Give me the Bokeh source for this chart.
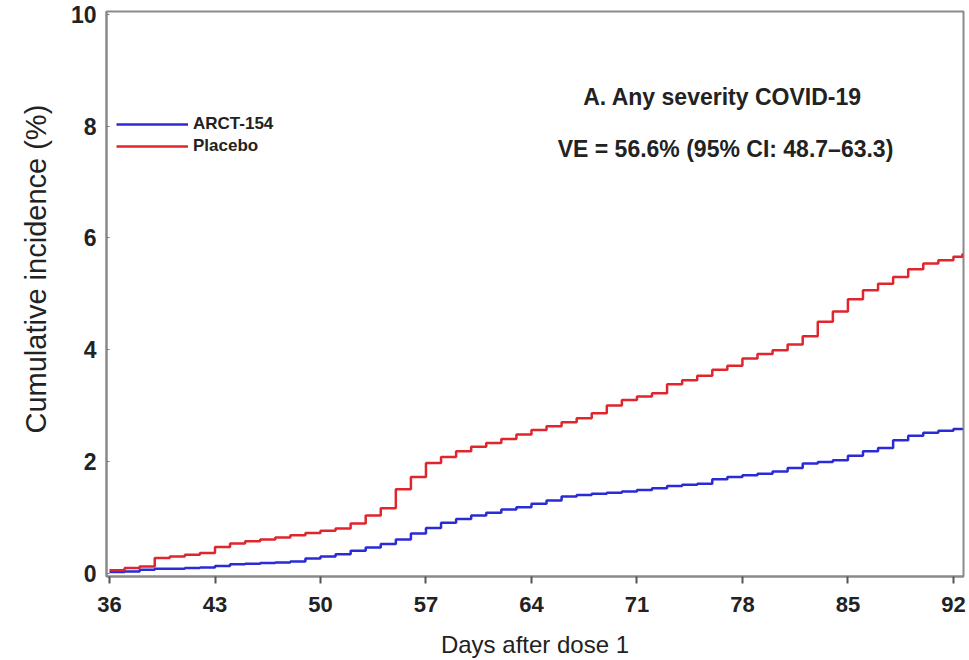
from bokeh.plotting import figure
from bokeh.models import Range1d, FixedTicker, Label, Legend, LegendItem, Title
from bokeh.embed import file_html
from bokeh.resources import INLINE

days = list(range(36, 93)) + [92.6]

arct154 = [0.02, 0.03, 0.06, 0.08, 0.08, 0.09, 0.10, 0.13, 0.16, 0.17,
           0.18, 0.19, 0.21, 0.26, 0.30, 0.34, 0.40, 0.46, 0.52, 0.60,
           0.71, 0.81, 0.90, 0.97, 1.03, 1.08, 1.14, 1.18, 1.24, 1.30,
           1.37, 1.40, 1.42, 1.44, 1.46, 1.49, 1.52, 1.56, 1.58, 1.60,
           1.68, 1.72, 1.75, 1.78, 1.82, 1.88, 1.96, 1.99, 2.02, 2.10,
           2.18, 2.24, 2.38, 2.46, 2.51, 2.55, 2.58, 2.59]

placebo = [0.05, 0.09, 0.12, 0.27, 0.30, 0.33, 0.36, 0.47, 0.53, 0.57,
           0.60, 0.64, 0.68, 0.72, 0.76, 0.80, 0.89, 1.03, 1.16, 1.50,
           1.72, 1.97, 2.08, 2.18, 2.26, 2.33, 2.40, 2.48, 2.56, 2.63,
           2.70, 2.77, 2.86, 3.00, 3.10, 3.16, 3.22, 3.38, 3.45, 3.53,
           3.64, 3.71, 3.84, 3.92, 3.99, 4.09, 4.24, 4.50, 4.68, 4.90,
           5.06, 5.18, 5.30, 5.44, 5.54, 5.60, 5.66, 5.72]

x_ticks = [36, 43, 50, 57, 64, 71, 78, 85, 92]
y_ticks = [0, 2, 4, 6, 8, 10]

FONT = "Liberation Sans"
TXT = "#222222"

p = figure(width=969, height=660, output_backend="svg", toolbar_location=None,
           x_range=Range1d(35.8, 92.67), y_range=Range1d(-0.06, 10.05),
           min_border_left=106, min_border_right=6, min_border_top=11,
           min_border_bottom=84)
p.background_fill_color = "white"
p.border_fill_color = "white"
p.outline_line_color = "#8a8a8a"
p.outline_line_width = 2
p.xgrid.visible = False
p.ygrid.visible = False

blue = p.step(days, arct154, mode="after", line_color="#2a2ad6", line_width=2.5)
red = p.step(days, placebo, mode="after", line_color="#e0262c", line_width=2.5)

xa = p.xaxis[0]
xa.ticker = FixedTicker(ticks=x_ticks)
xa.minor_tick_line_color = None
xa.axis_line_color = "#8a8a8a"
xa.axis_line_width = 2
xa.major_tick_line_color = "#555555"
xa.major_tick_line_width = 2
xa.major_tick_out = 7
xa.major_tick_in = 0
xa.major_label_text_font = FONT
xa.major_label_text_font_size = "22px"
xa.major_label_text_font_style = "bold"
xa.major_label_text_color = TXT
xa.major_label_standoff = 13
xa.axis_label = "Days after dose 1"
xa.axis_label_text_font = FONT
xa.axis_label_text_font_size = "24px"
xa.axis_label_text_font_style = "normal"
xa.axis_label_text_color = TXT
xa.axis_label_standoff = 16

ya = p.yaxis[0]
ya.ticker = FixedTicker(ticks=y_ticks)
ya.minor_tick_line_color = None
ya.axis_line_color = "#8a8a8a"
ya.axis_line_width = 2
ya.major_tick_line_color = "#777777"
ya.major_tick_line_width = 1
ya.major_tick_out = 0
ya.major_tick_in = 3
ya.major_label_text_font = FONT
ya.major_label_text_font_size = "23px"
ya.major_label_text_font_style = "bold"
ya.major_label_text_color = TXT
ya.major_label_standoff = 10

# y-axis title as a side title, starting above the frame bottom as in the reference
p.add_layout(Title(text="Cumulative incidence (%)", align="left", offset=143,
                   standoff=32, text_font=FONT, text_font_size="29px",
                   text_font_style="normal", text_color=TXT), "left")

legend = Legend(items=[LegendItem(label="ARCT-154", renderers=[blue]),
                       LegendItem(label="Placebo", renderers=[red])],
                location=(10, 420), orientation="vertical",
                glyph_width=72, glyph_height=20, label_height=20,
                label_standoff=5, spacing=2, padding=0, margin=0,
                border_line_alpha=0, background_fill_alpha=0,
                label_text_font=FONT, label_text_font_size="17px",
                label_text_font_style="bold", label_text_color=TXT)
p.add_layout(legend)

p.add_layout(Label(x=722 - 106, y=576 - 96, x_units="screen", y_units="screen",
                   text="A. Any severity COVID-19", text_align="center",
                   text_baseline="middle", text_font=FONT,
                   text_font_size="23px", text_font_style="bold",
                   text_color=TXT))
p.add_layout(Label(x=725 - 106, y=576 - 148, x_units="screen", y_units="screen",
                   text="VE = 56.6% (95% CI: 48.7\u201363.3)", text_align="center",
                   text_baseline="middle", text_font=FONT,
                   text_font_size="23px", text_font_style="bold",
                   text_color=TXT))

open("out.html", "w").write(file_html(p, INLINE))
